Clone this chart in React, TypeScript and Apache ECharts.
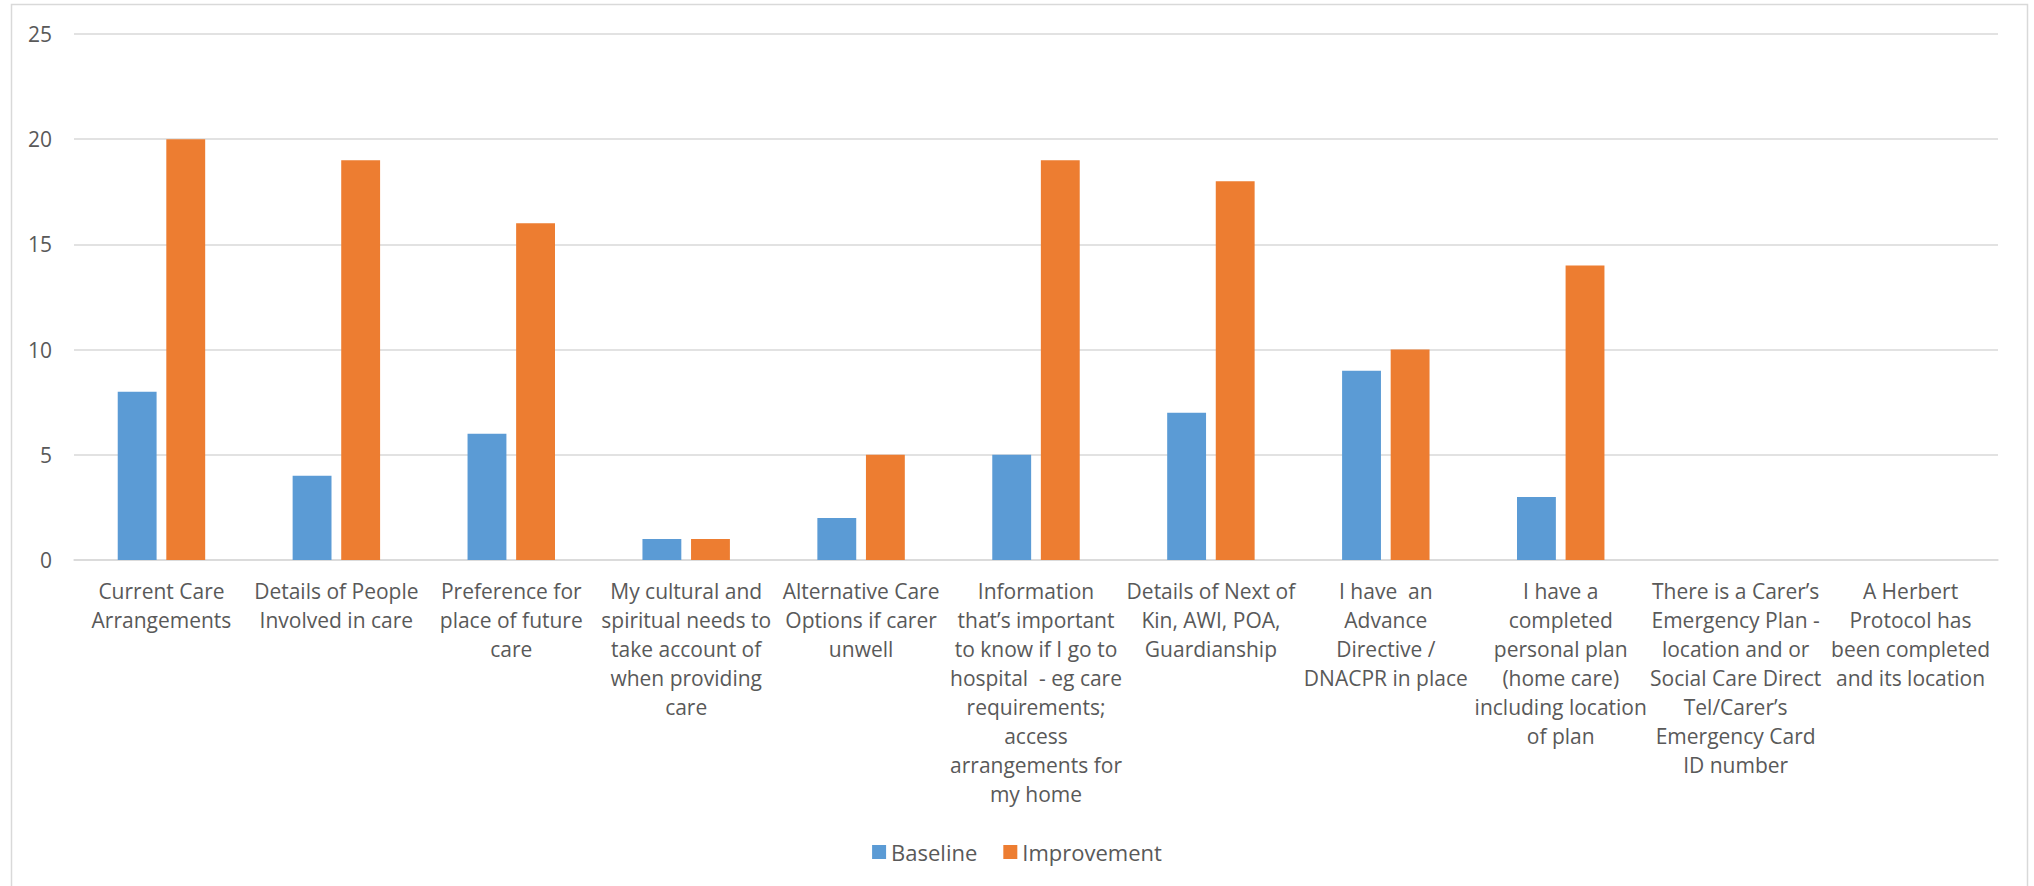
import React, { useEffect, useRef } from "react";
import * as echarts from "echarts";

const categories = [
  "Current Care\nArrangements",
  "Details of People\nInvolved in care",
  "Preference for\nplace of future\ncare",
  "My cultural and\nspiritual needs to\ntake account of\nwhen providing\ncare",
  "Alternative Care\nOptions if carer\nunwell",
  "Information\nthat\u2019s important\nto know if I go to\nhospital  - eg care\nrequirements;\naccess\narrangements for\nmy home",
  "Details of Next of\nKin, AWI, POA,\nGuardianship",
  "I have  an\nAdvance\nDirective /\nDNACPR in place",
  "I have a\ncompleted\npersonal plan\n(home care)\nincluding location\nof plan",
  "There is a Carer\u2019s\nEmergency Plan -\nlocation and or\nSocial Care Direct\nTel/Carer\u2019s\nEmergency Card\nID number",
  "A Herbert\nProtocol has\nbeen completed\nand its location",
];

const baseline = [8, 4, 6, 1, 2, 5, 7, 9, 3, 0, 0];
const improvement = [20, 19, 16, 1, 5, 19, 18, 10, 14, 0, 0];

const seriesNames = ["Baseline", "Improvement"];
const yMin = 0;
const yMax = 25;
const yInterval = 5;

const FONT = "'Open Sans', 'Noto Sans', sans-serif";
const TEXT = "#595959";
const GRID = "#d9d9d9";

export default function App() {
  const ref = useRef<HTMLDivElement>(null);

  useEffect(() => {
    if (!ref.current) return;
    const chart = echarts.init(ref.current, null, { renderer: "svg" });
    chart.setOption({
      animation: false,
      backgroundColor: "#ffffff",
      textStyle: { fontFamily: FONT },
      grid: { left: 74, right: 36, top: 34, bottom: 326 },
      legend: {
        data: seriesNames,
        top: 836,
        left: "center",
        icon: "rect",
        itemWidth: 14,
        itemHeight: 14,
        itemGap: 26,
        textStyle: { color: TEXT, fontSize: 22, fontFamily: FONT },
      },
      xAxis: {
        type: "category",
        data: categories,
        axisLine: { show: true, lineStyle: { color: GRID, width: 1.5 } },
        axisTick: { show: false },
        axisLabel: {
          interval: 0,
          color: TEXT,
          fontSize: 21,
          lineHeight: 29,
          margin: 16,
          fontFamily: FONT,
          verticalAlign: "top",
        },
      },
      yAxis: {
        type: "value",
        min: yMin,
        max: yMax,
        interval: yInterval,
        axisLine: { show: false },
        axisTick: { show: false },
        splitLine: { lineStyle: { color: GRID, width: 1.5 } },
        axisLabel: { color: TEXT, fontSize: 21, margin: 22, fontFamily: FONT },
      },
      series: [
        {
          name: seriesNames[0],
          type: "bar",
          data: baseline,
          itemStyle: { color: "#5b9bd5" },
          barGap: "25%",
          barCategoryGap: "50%",
        },
        {
          name: seriesNames[1],
          type: "bar",
          data: improvement,
          itemStyle: { color: "#ed7d31" },
          barGap: "25%",
          barCategoryGap: "50%",
        },
      ],
      graphic: [
        {
          type: "rect",
          shape: { x: 11.5, y: 4.5, width: 2016, height: 1000 },
          style: { fill: "none", stroke: GRID, lineWidth: 1.5 },
          silent: true,
          z: 100,
        },
      ],
    });
    return () => chart.dispose();
  }, []);

  return (
    <div
      ref={ref}
      style={{ position: "absolute", left: 0, top: 0, width: 2034, height: 886 }}
    />
  );
}
